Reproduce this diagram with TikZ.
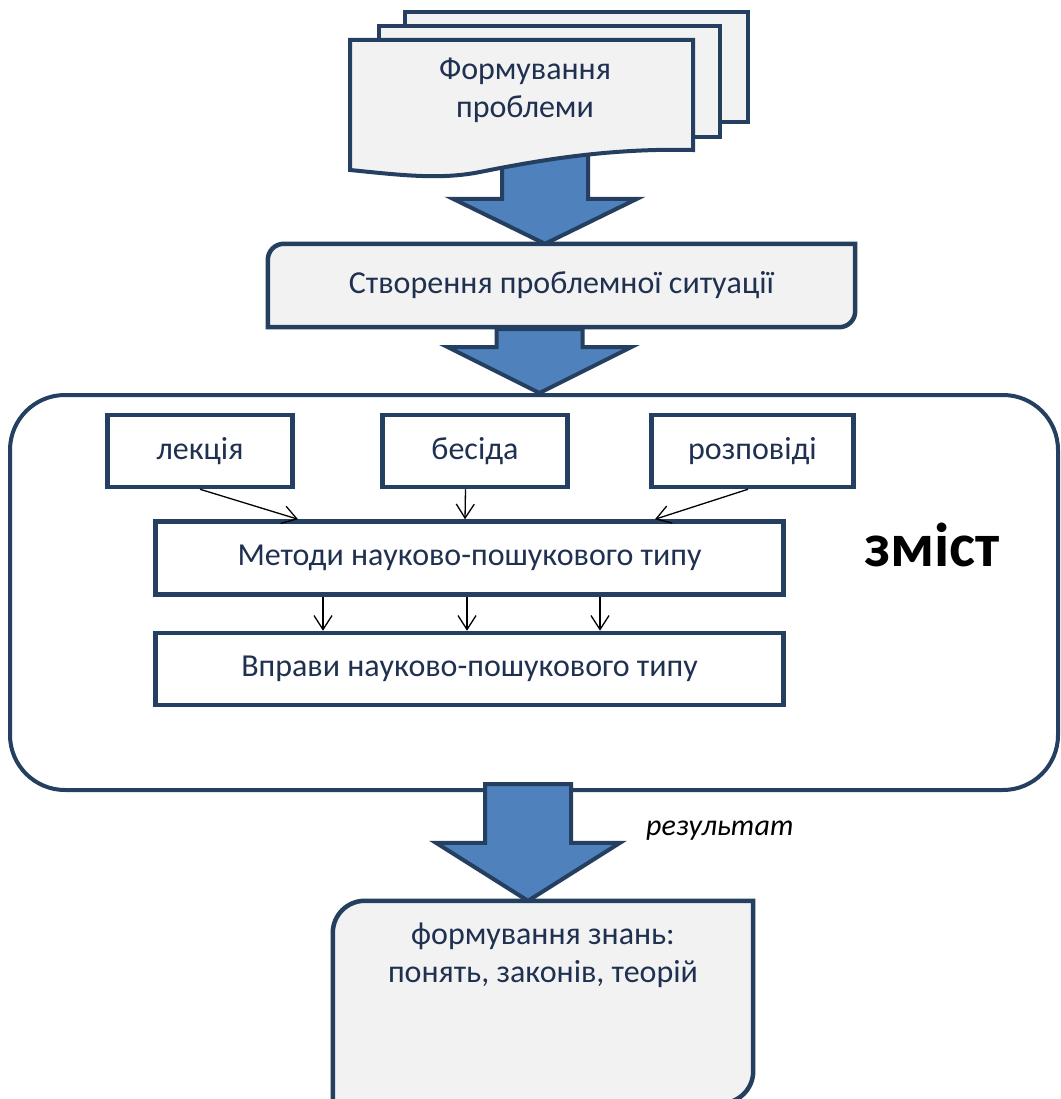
\documentclass[tikz,border=0pt]{standalone}
\usepackage{fontspec}
\setmainfont{Carlito}
\usetikzlibrary{arrows.meta,positioning,calc}

\definecolor{navyline}{HTML}{243F60}
\definecolor{paleface}{HTML}{F2F2F2}
\definecolor{arrowblue}{HTML}{4F81BD}
\definecolor{inktext}{HTML}{1F3050}

\pgfdeclarelayer{background}
\pgfsetlayers{background,main}

% wide block arrow: start, end, head length
\newcommand{\fatarrow}[3]{%
  \draw[fatarr] let \p1=(#1), \p2=(#2) in
    (\x1-43pt,\y1) -- (\x1+43pt,\y1) -- (\x1+43pt,\y2+#3) -- (\x1+92pt,\y2+#3)
    -- (\x1,\y2) -- (\x1-92pt,\y2+#3) -- (\x1-43pt,\y2+#3) -- cycle;}

\begin{document}
\begin{tikzpicture}[x=1pt, y=-1pt, line join=miter,
        font=\fontsize{32}{38}\selectfont,
        inktxt/.style={text=inktext, align=center},
        greyshape/.style={draw=navyline, line width=4.5pt, fill=paleface},
        framebox/.style={draw=navyline, line width=4.5pt, fill=white, text=inktext, inner sep=0pt, minimum height=72pt},
        feed/.style={-{Straight Barb[length=14pt,width=18pt]}, line width=1.3pt},
        fatarr/.style={draw=navyline, line width=4pt, fill=arrowblue}
    ]
    \useasboundingbox (0,0) rectangle (1060,1099);
    \begin{pgfonlayer}{background}
        \fill[white] (0,0) rectangle (1060,1099);
    \end{pgfonlayer}

    % problem situation
    \node[inktxt, minimum width=587pt, minimum height=83pt] (sit) at (561.5,285.5) {Створення проблемної ситуації};
    \begin{pgfonlayer}{background}
        \draw[greyshape] (sit.west) [rounded corners=16pt] -- (sit.north west) [sharp corners] -- (sit.north east)
            [rounded corners=16pt] -- (sit.south east) [sharp corners] -- (sit.south west) -- cycle;
    \end{pgfonlayer}

    % stack of documents
    \coordinate (docfoot) at (545,150);
    \fatarrow{docfoot}{sit.north}{45pt}
    \draw[greyshape, line width=4pt] (405,12) rectangle (748,122);
    \draw[greyshape, line width=4pt] (379,26) rectangle (720,137);
    \draw[greyshape, line width=4pt] (350,40) -- (693,40) -- (693,150)
        .. controls (610,148) and (540,160) .. (480,172)
        .. controls (440,180) and (400,175) .. (350,170) -- cycle;
    \node[inktxt] (doc) at (525,90) {Формування\\проблеми};

    % content
    \node[draw=navyline, line width=4pt, rounded corners=55pt, minimum width=1048pt, minimum height=395pt] (content) at (534,592.5) {};
    \node[framebox, minimum width=185pt] (lek) at (200,451) {лекція};
    \node[framebox, minimum width=185pt, right=85.5pt of lek] (bes) {бесіда};
    \node[framebox, minimum width=202pt, right=79.5pt of bes] (roz) {розповіді};
    \node[framebox, minimum width=628pt, minimum height=73pt] (meth) at (469.5,558) {Методи науково-пошукового типу};
    \node[framebox, minimum width=628pt, below=34pt of meth] (ex) {Вправи науково-пошукового типу};
    \node[font=\fontsize{62}{70}\selectfont\bfseries] (zmist) at (932,545) {зміст};

    \draw[feed] (lek.south) -- ([xshift=-171.5pt]meth.north);
    \draw[feed] ([xshift=-9.5pt]bes.south) -- ([xshift=-4.5pt]meth.north);
    \draw[feed] ([xshift=-4.5pt]roz.south) -- ([xshift=185.5pt]meth.north);
    \foreach \dx in {-146.5,-2.5,130.5}
        \draw[feed] ([xshift=\dx pt]meth.south) -- ([xshift=\dx pt]ex.north);

    \fatarrow{[xshift=-22pt,yshift=-2pt]sit.south}{content.north}{46pt}

    % result
    \node[minimum width=420pt, minimum height=202pt] (result) at (543,1002) {};
    \begin{pgfonlayer}{background}
        \draw[greyshape] (result.west) [rounded corners=32pt] -- (result.north west) [sharp corners] -- (result.north east)
            [rounded corners=32pt] -- (result.south east) [sharp corners] -- (result.south west) -- cycle;
    \end{pgfonlayer}
    \node[inktxt, anchor=north] (resulttext) at ([yshift=-19pt]result.north) {формування знань:\\понять, законів, теорій};
    \fatarrow{[xshift=-6pt,yshift=8pt]content.south}{result.north}{58pt}
    \node[font=\fontsize{30}{34}\selectfont\itshape] (reslabel) at (720,831) {результат};
\end{tikzpicture}
\end{document}
